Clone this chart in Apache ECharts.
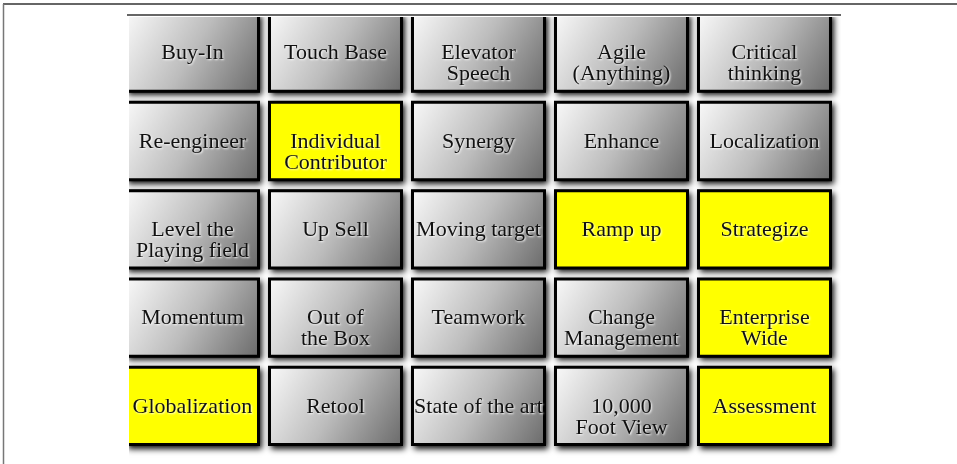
<!DOCTYPE html>
<html>
<head>
<meta charset="utf-8">
<script src="https://cdn.jsdelivr.net/npm/echarts@6/dist/echarts.min.js"></script>
<style>
html,body{margin:0;padding:0;background:#fff;}
#chart{width:957px;height:464px;}
</style>
</head>
<body>
<div id="chart"></div>
<script>
// Grid rows (top to bottom), columns left to right
const row0 = ['Buy-In', 'Touch Base', 'Elevator\nSpeech', 'Agile\n(Anything)', 'Critical\nthinking'];
const row1 = ['Re-engineer', 'Individual\nContributor', 'Synergy', 'Enhance', 'Localization'];
const row2 = ['Level the\nPlaying field', 'Up Sell', 'Moving target', 'Ramp up', 'Strategize'];
const row3 = ['Momentum', 'Out of\nthe Box', 'Teamwork', 'Change\nManagement', 'Enterprise\nWide'];
const row4 = ['Globalization', 'Retool', 'State of the art', '10,000\nFoot View', 'Assessment'];
// 1 = highlighted (yellow) cell
const mark0 = [0, 0, 0, 0, 0];
const mark1 = [0, 1, 0, 0, 0];
const mark2 = [0, 0, 0, 1, 1];
const mark3 = [0, 0, 0, 0, 1];
const mark4 = [1, 0, 0, 0, 1];

const rows = [row0, row1, row2, row3, row4];
const marks = [mark0, mark1, mark2, mark3, mark4];
const data = [];
rows.forEach((r, ri) => r.forEach((t, ci) => data.push([ci, ri, t, marks[ri][ci]])));

const chart = echarts.init(document.getElementById('chart'));
const grayFill = new echarts.graphic.LinearGradient(0, 0, 1, 1, [
  {offset: 0, color: '#fafafa'},
  {offset: 0.5, color: '#bcbcbc'},
  {offset: 1, color: '#696969'}
]);
const LH = 21;

chart.setOption({
  animation: false,
  grid: {left: 129, right: 116, top: 17, bottom: 0},
  xAxis: {
    type: 'value', min: -0.444, max: 4.535,
    axisLine: {show: false}, axisTick: {show: false}, axisLabel: {show: false}, splitLine: {show: false}
  },
  yAxis: {
    type: 'value', inverse: true, min: -0.404, max: 4.658,
    axisLine: {show: false}, axisTick: {show: false}, axisLabel: {show: false}, splitLine: {show: false}
  },
  graphic: [
    {type: 'line', shape: {x1: 3, y1: 4, x2: 957, y2: 4}, style: {stroke: '#666', lineWidth: 2}},
    {type: 'line', shape: {x1: 3.5, y1: 4, x2: 3.5, y2: 464}, style: {stroke: '#777', lineWidth: 1.5}},
    {type: 'line', shape: {x1: 127, y1: 15, x2: 841, y2: 15}, style: {stroke: '#666', lineWidth: 2}}
  ],
  series: [{
    type: 'custom',
    clip: true,
    data: data,
    encode: {x: 0, y: 1},
    renderItem: function (params, api) {
      const c = api.coord([api.value(0), api.value(1)]);
      const s = api.size([1, 1]);
      const w = s[0] - 11, h = s[1] - 11;
      const yellow = api.value(3) === 1;
      const shape = {x: c[0] - w / 2, y: c[1] - h / 2, width: w, height: h};
      return {
        type: 'group',
        children: [{
          type: 'rect',
          shape: {x: shape.x - 1, y: shape.y - 1, width: w + 2, height: h + 2},
          style: {
            fill: '#000',
            shadowBlur: 6, shadowOffsetX: 3, shadowOffsetY: 3, shadowColor: 'rgba(0,0,0,0.95)'
          }
        }, {
          type: 'rect',
          shape: shape,
          style: {
            fill: yellow ? '#ffff00' : grayFill,
            stroke: '#000', lineWidth: 3
          }
        }, {
          type: 'text',
          x: c[0], y: c[1] - LH / 2 + 1,
          style: {
            text: api.value(2),
            font: '22px "Liberation Serif"',
            fill: '#111',
            align: 'center', verticalAlign: 'top', lineHeight: LH,
            textShadowColor: 'rgba(255,255,255,0.95)', textShadowBlur: 2,
            textShadowOffsetX: 1, textShadowOffsetY: 1
          }
        }]
      };
    }
  }]
});
</script>
</body>
</html>
